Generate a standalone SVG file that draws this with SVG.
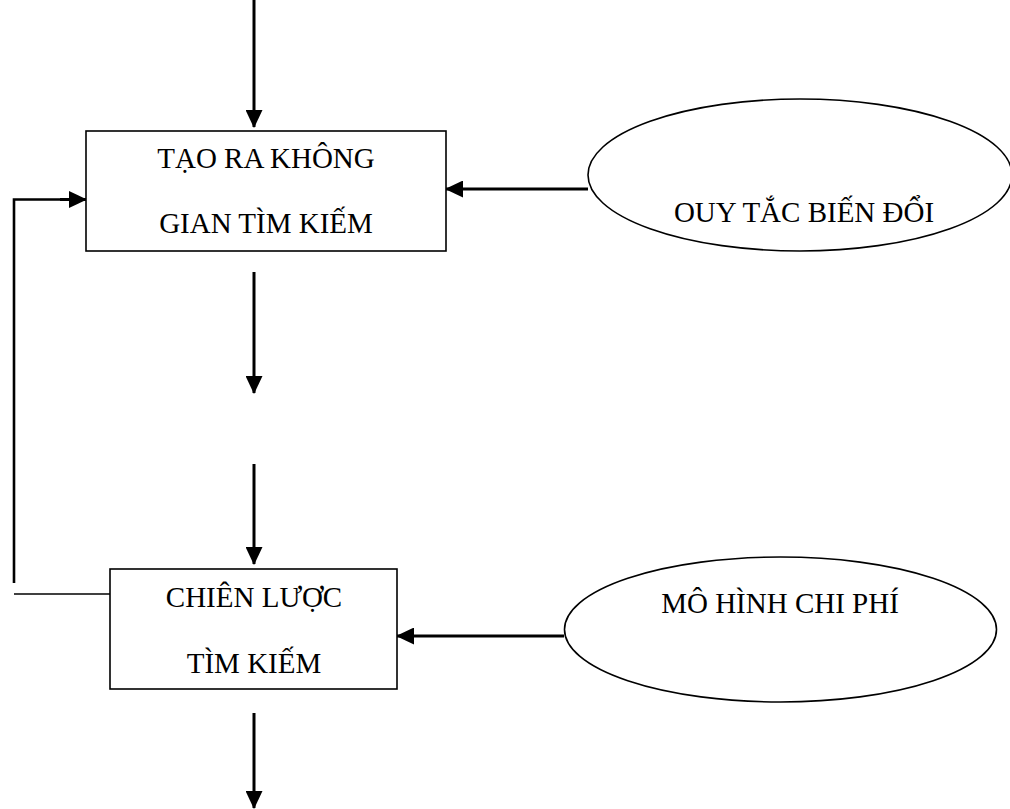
<svg xmlns="http://www.w3.org/2000/svg" width="1010" height="809" viewBox="0 0 1010 809">
<style>
.box{fill:#fff;stroke:#000;stroke-width:1.6}
.ell{fill:#fff;stroke:#000;stroke-width:1.6}
.lbl{font-family:"Liberation Serif","Times New Roman",serif;font-size:29px;fill:#000;text-anchor:middle}
.arr{stroke:#000;stroke-width:3;fill:none;marker-end:url(#ah)}
.ln{stroke:#000;fill:none}
</style>
<defs>
<marker id="ah" markerUnits="userSpaceOnUse" markerWidth="18" markerHeight="17" viewBox="0 0 18 17" refX="17" refY="8.5" orient="auto">
<path d="M0,0 L18,8.5 L0,17 Z" fill="#000"/>
</marker>
</defs>
<rect width="1010" height="809" fill="#fff"/>
<g id="connectors">
<line class="arr" x1="254" y1="0" x2="254" y2="127"/>
<line class="arr" x1="588" y1="189" x2="446" y2="189"/>
<line class="arr" x1="254" y1="272" x2="254" y2="393"/>
<line class="arr" x1="254" y1="464" x2="254" y2="564"/>
<line class="arr" x1="564" y1="636" x2="397" y2="636"/>
<line class="arr" x1="254" y1="713" x2="254" y2="808"/>
<polyline class="ln" stroke-width="2.6" points="14,583 14,199.5 72,199.5"/>
<line class="arr" x1="60" y1="199.5" x2="86" y2="199.5"/>
<line class="ln" stroke-width="1.3" x1="14" y1="594" x2="110" y2="594"/>
</g>
<g id="node-tao-ra">
<rect class="box" x="86" y="131" width="360" height="120"/>
<text class="lbl" x="266" y="168">TẠO RA KHÔNG</text>
<text class="lbl" x="266" y="233">GIAN TÌM KIẾM</text>
</g>
<g id="node-quy-tac">
<ellipse class="ell" cx="800" cy="175" rx="212" ry="76"/>
<text class="lbl" x="804" y="222">OUY TẮC BIẾN ĐỔI</text>
</g>
<g id="node-chien-luoc">
<rect class="box" x="110" y="569" width="287" height="120"/>
<text class="lbl" x="254" y="607">CHIÊN LƯỢC</text>
<text class="lbl" x="254" y="673">TÌM KIẾM</text>
</g>
<g id="node-mo-hinh">
<ellipse class="ell" cx="780.5" cy="629.5" rx="216" ry="72.5"/>
<text class="lbl" x="780" y="613">MÔ HÌNH CHI PHÍ</text>
</g>
</svg>
